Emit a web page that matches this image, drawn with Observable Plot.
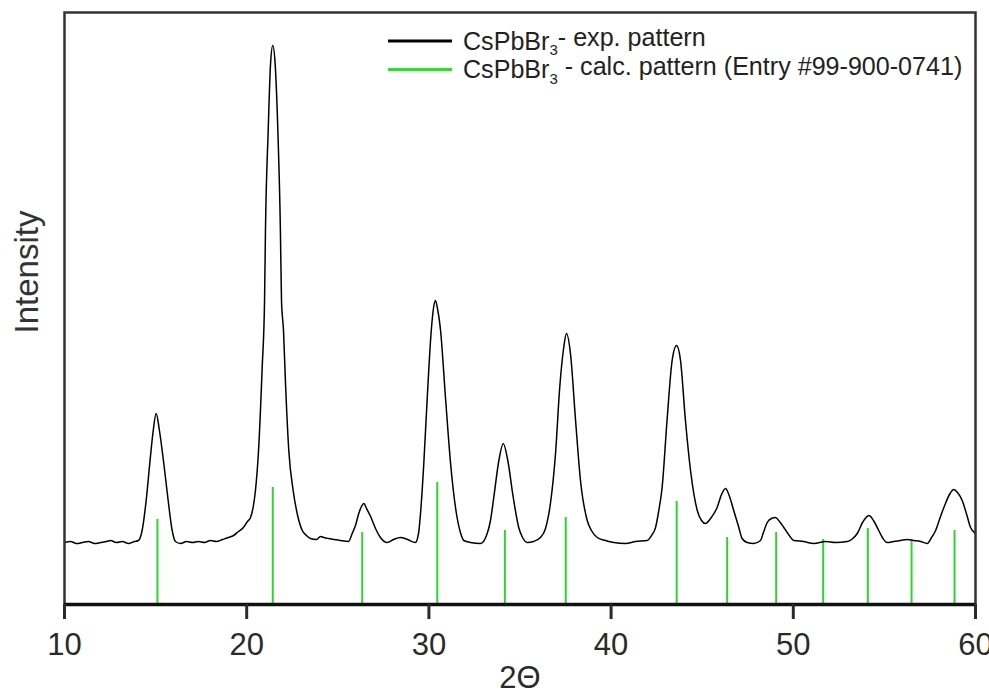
<!DOCTYPE html>
<html>
<head>
<meta charset="utf-8">
<script src="https://cdn.jsdelivr.net/npm/d3@7"></script>
<script src="https://cdn.jsdelivr.net/npm/@observablehq/plot@0.6"></script>
<style>
  html, body { margin: 0; padding: 0; background: #fff; overflow: hidden; }
  #chart { position: relative; width: 989px; height: 693px; }
</style>
</head>
<body>
<div id="chart"></div>
<script>
// ---- Experimental XRD pattern (2θ in degrees, intensity in a.u.) ----
const expTwoTheta = [
  10.00, 10.33, 10.66, 10.99, 11.32, 11.65, 11.98, 12.31, 12.52, 12.85, 13.18, 13.51, 13.84, 14.06,
  14.26, 14.50, 14.68, 14.87, 15.03, 15.21, 15.45, 15.67, 15.91, 16.09,
  16.37, 16.70, 17.03, 17.35, 17.68, 18.01, 18.34, 18.67, 19.00, 19.28, 19.55, 19.82, 20.04, 20.21,
  20.37, 20.48, 20.65, 20.85, 20.98, 21.03, 21.18, 21.31, 21.43, 21.56, 21.71, 21.85, 21.91, 22.02,
  22.13, 22.31, 22.55, 22.77, 23.05, 23.28, 23.50, 23.83, 24.05, 24.23, 24.49, 24.82, 25.15, 25.59,
  25.79, 25.97, 26.15, 26.30, 26.43, 26.58, 26.80, 27.07, 27.34, 27.71, 28.06, 28.44, 28.83, 29.26,
  29.43, 29.54, 29.72, 29.91, 30.13, 30.25, 30.36, 30.47, 30.64, 30.91, 31.19, 31.51, 31.73, 31.92,
  32.28, 32.83, 33.20, 33.38, 33.56, 33.84, 34.08, 34.33, 34.63, 34.93, 35.14, 35.40, 35.74, 36.12,
  36.40, 36.67, 36.95, 37.18, 37.40, 37.55, 37.77, 38.05, 38.32, 38.69, 38.92, 39.24, 39.69, 40.15,
  40.79, 41.34, 41.98, 42.22, 42.44, 42.60, 42.80, 43.07, 43.35, 43.59, 43.81, 44.08, 44.36, 44.73,
  44.96, 45.18, 45.46, 45.82, 46.06, 46.28, 46.44, 46.73, 47.01, 47.19, 47.47, 47.83, 48.20, 48.36,
  48.57, 48.80, 49.02, 49.24, 49.48, 49.74, 50.03, 50.56, 51.13, 51.77, 52.32, 52.96, 53.20, 53.51,
  53.80, 54.15, 54.40, 54.69, 54.89, 55.15, 55.50, 55.88, 56.25, 56.61, 56.98, 57.35, 57.59, 57.81,
  58.08, 58.35, 58.57, 58.81, 59.01, 59.27, 59.50, 59.73, 60.00
];
const expIntensity = [
  62, 63, 61, 62, 63, 61, 62, 63, 64, 62, 63, 61, 63, 64,
  74, 107, 141, 174, 191, 174, 141, 107, 74, 63,
  61, 63, 62, 63, 62, 64, 63, 65, 67, 69, 73, 77, 83, 87,
  99, 114, 154, 237, 304, 374, 474, 541, 559, 541, 474, 374, 304, 274,
  221, 154, 114, 91, 74, 69, 66, 65, 68, 67, 66, 65, 64, 63,
  71, 79, 91, 98, 101, 96, 88, 76, 67, 62, 65, 67, 65, 62,
  71, 91, 141, 207, 274, 296, 304, 296, 274, 207, 141, 91, 72, 64,
  62, 61, 71, 84, 107, 144, 161, 144, 107, 77, 67, 62, 63, 67,
  76, 101, 151, 217, 257, 271, 251, 184, 124, 84, 74, 67, 64, 62,
  61, 63, 64, 69, 77, 92, 117, 184, 244, 259, 244, 184, 134, 94,
  84, 81, 86, 97, 110, 116, 111, 94, 77, 66, 62, 61, 64, 72,
  82, 86, 87, 83, 77, 70, 64, 63, 61, 63, 62, 63, 65, 71,
  82, 89, 84, 74, 67, 62, 63, 64, 65, 64, 63, 61, 67, 74,
  88, 101, 110, 115, 112, 104, 91, 77, 71
];

// ---- Calculated pattern (Entry #99-900-0741): reflection positions and intensities ----
const calcTwoTheta  = [15.10, 21.43, 26.34, 30.46, 34.17, 37.51, 43.60, 46.37, 49.06, 51.64, 54.09, 56.49, 58.85];
const calcIntensity = [85, 117, 72, 122, 74, 87, 103, 67, 72, 65, 76, 64, 74];

// ---- Axis / legend text ----
const xTicks = [10, 20, 30, 40, 50, 60];
const xLabel = "2Θ";
const yLabel = "Intensity";
const seriesNames = [
  {main: "CsPbBr", sub: "3", rest: "- exp. pattern"},
  {main: "CsPbBr", sub: "3", rest: " - calc. pattern (Entry #99-900-0741)"}
];

const expData = expTwoTheta.map((t, i) => ({t, I: expIntensity[i]}));
const calcData = calcTwoTheta.map((t, i) => ({t, I: calcIntensity[i]}));

const GREEN = "#2fd42f";
const FONT = "'Liberation Sans', Arial, Helvetica, sans-serif";

const chart = Plot.plot({
  width: 989,
  height: 693,
  marginLeft: 64,
  marginRight: 14,
  marginTop: 12,
  marginBottom: 89,
  style: {fontFamily: FONT, background: "#fff", overflow: "visible"},
  x: {domain: [10, 60]},
  y: {domain: [0, 592]},
  marks: [
    Plot.ruleX(calcData, {x: "t", y1: 0, y2: "I", stroke: GREEN, strokeWidth: 2}),
    Plot.line(expData, {x: "t", y: "I", stroke: "#000", strokeWidth: 1.5, curve: "monotone-x"}),
    Plot.frame({stroke: "#333", strokeWidth: 2.5}),
    Plot.ruleY([0], {stroke: "#111", strokeWidth: 3.5}),
    Plot.axisX({
      ticks: xTicks, tickSize: 15, tickPadding: 13, tickFormat: d => String(d),
      fontSize: 31, color: "#2a2a2a", strokeWidth: 3,
      label: xLabel, labelAnchor: "center", labelArrow: "none", labelOffset: 83
    }),
    Plot.axisY({ticks: [], label: null})
  ]
});

document.getElementById("chart").appendChild(chart);

const svg = d3.select(chart);

// ---- Y axis title ----
svg.append("text")
  .attr("transform", "translate(26,272) rotate(-90)")
  .attr("text-anchor", "middle")
  .attr("dy", "0.35em")
  .attr("font-family", FONT)
  .attr("font-size", 33)
  .attr("fill", "#333")
  .text(yLabel);

// ---- Legend inside the plot area ----
const legend = svg.append("g")
  .attr("font-family", FONT).attr("font-size", 25.1).attr("fill", "#222")
  .attr("text-anchor", "start");
const legendColors = ["#000", "#22e622"];
seriesNames.forEach((s, i) => {
  const y = 41 + i * 28.5;
  legend.append("line").attr("x1", 388).attr("x2", 452).attr("y1", y).attr("y2", y)
    .attr("stroke", legendColors[i]).attr("stroke-width", 3);
  const t = legend.append("text").attr("x", 463).attr("y", y).attr("dy", "0.35em")
    .attr("text-anchor", "start");
  t.append("tspan").text(s.main);
  t.append("tspan").attr("font-size", 15).attr("dy", "0.35em").text(s.sub);
  t.append("tspan").attr("dy", "-0.35em").text(s.rest);
});
</script>
</body>
</html>
